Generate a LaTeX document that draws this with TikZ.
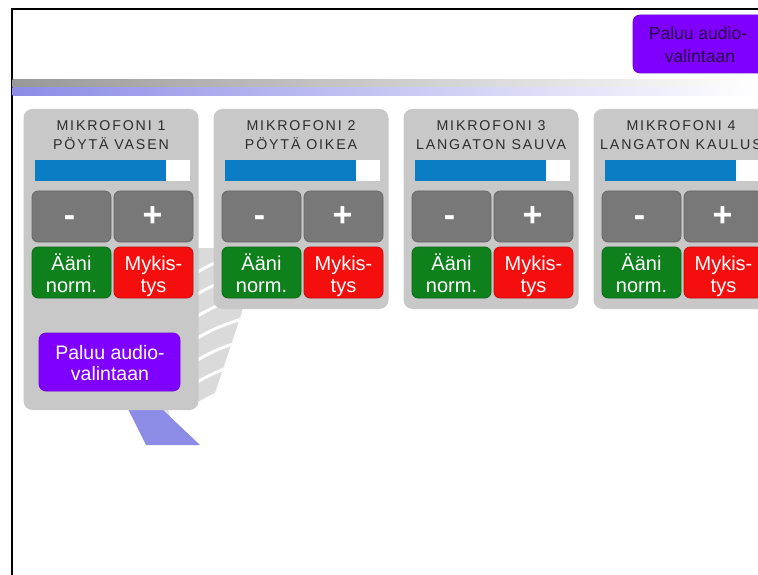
\documentclass[tikz,border=0pt]{standalone}
\usepackage{fontspec}
\setmainfont{Liberation Sans}
\newfontfamily\trackfont[LetterSpace=13]{Liberation Sans}
\definecolor{panelgray}{RGB}{200,200,200}
\definecolor{keygray}{RGB}{120,120,120}
\definecolor{keygreen}{RGB}{14,128,28}
\definecolor{keyred}{RGB}{244,14,14}
\definecolor{keypurple}{RGB}{128,0,255}
\definecolor{levelblue}{RGB}{10,125,196}
\definecolor{titlegray}{RGB}{45,45,45}
\definecolor{bandgray}{RGB}{152,152,152}
\definecolor{bandlav}{RGB}{140,140,230}
\definecolor{fangray}{RGB}{218,218,218}
\definecolor{deeppurple}{RGB}{40,0,70}
\begin{document}
\begin{tikzpicture}[x=1pt,y=-1pt,
  every node/.style={inner sep=0pt,outer sep=0pt},
  panelbox/.style={fill=panelgray,rounded corners=9pt,minimum width=175},
  keybox/.style={rounded corners=6pt,minimum width=79,minimum height=51},
  graykey/.style={keybox,fill=keygray,draw=keygray!85!black,line width=0.7pt},
  greenkey/.style={keybox,fill=keygreen,draw=keygreen!80!black,line width=0.7pt},
  redkey/.style={keybox,fill=keyred,draw=keyred!80!black,line width=0.7pt},
  purplekey/.style={rounded corners=7pt,fill=keypurple,draw=keypurple!85!black,line width=0.7pt},
  titletext/.style={font=\trackfont\fontsize{14.2}{17}\selectfont,text=titlegray,anchor=base},
  keytext/.style={font=\fontsize{20}{23}\selectfont,text=white,anchor=base},
  signtext/.style={font=\bfseries\fontsize{34}{34}\selectfont,text=white},
  backtext/.style={font=\fontsize{19.5}{21}\selectfont,anchor=base}]
\useasboundingbox (0,0) rectangle (758,575);
\clip (0,0) rectangle (758,575);

% frame lines along the top and left edges
\coordinate (tl) at (11.5,9.5);
\coordinate (tr) at (760,9.5);
\coordinate (bl) at (11.5,577);
\draw[line width=2pt] (tr) -- (tl) -- (bl);

% header band fading to the right
\shade[left color=bandgray,right color=white] (12.5,80) rectangle (760,88);
\shade[left color=bandlav,right color=white] (12.5,88) rectangle (760,96);

% background swoosh behind the first panels
\begin{scope}
  \clip (196,248) -- (252,248) -- (242,312) -- (214,396) -- (196,402) -- cycle;
  \fill[fangray] (190,240) rectangle (260,410);
  \foreach \yy in {262,284,306,328,350,372,394}
    \draw[white,line width=3pt] (194,\yy+12) .. controls (215,\yy) .. (256,\yy-14);
\end{scope}
\fill[black!12] (150,409) -- (168,409) -- (176,440) -- (164,440) -- cycle;
\fill[bandlav] (128,409) -- (162,409) -- (200,445) -- (146,445) -- cycle;

% return button in the top right corner
\node[purplekey,minimum width=132,minimum height=58,anchor=north west] (ret) at (633,15) {};
\node[backtext,text=deeppurple,font=\fontsize{17.5}{21}\selectfont] (ret1) at (698,39.5) {Paluu audio-};
\node[backtext,text=deeppurple,font=\fontsize{17.5}{21}\selectfont] (ret2) at (700,63) {valintaan};

% microphone panels
\foreach \dx/\n/\lbl/\h in {0/1/{PÖYTÄ VASEN}/301,190/2/{PÖYTÄ OIKEA}/200,380/3/{LANGATON SAUVA}/200,570/4/{LANGATON KAULUS}/200}{
  \begin{scope}[xshift=\dx]
    \node[panelbox,minimum height=\h,anchor=north] (p\n) at (111,109) {};
    \node[titletext] (ta\n) at (111,130.5) {MIKROFONI \n};
    \node[titletext] (tb\n) at (111,149.5) {\lbl};
    % level meter
    \node[fill=levelblue,minimum width=131,minimum height=21,anchor=north west] (lv\n) at (35,160.5) {};
    \node[fill=white,minimum width=24,minimum height=21,anchor=north west] (lw\n) at (166,160.5) {};
    % volume keys
    \node[graykey] (dn\n) at (71.5,216.5) {};
    \node[graykey] (up\n) at (153.5,216.5) {};
    \node[signtext] (dns\n) at (69.5,221.5) {-};
    \node[signtext] (ups\n) at (152.5,216.5) {+};
    % normal / mute keys
    \node[greenkey] (nm\n) at (71.5,272.5) {};
    \node[redkey] (mu\n) at (153.5,272.5) {};
    \node[keytext] (nma\n) at (71.5,270.5) {Ääni};
    \node[keytext] (nmb\n) at (71.5,292.5) {norm.};
    \node[keytext] (mua\n) at (153.5,270.5) {Mykis-};
    \node[keytext] (mub\n) at (153.5,292) {tys};
  \end{scope}
}

% return button inside the first panel
\node[purplekey,minimum width=141,minimum height=58] (back) at (109.5,362) {};
\node[backtext,text=white] (back1) at (110,359) {Paluu audio-};
\node[backtext,text=white] (back2) at (110,380) {valintaan};
\end{tikzpicture}
\end{document}
